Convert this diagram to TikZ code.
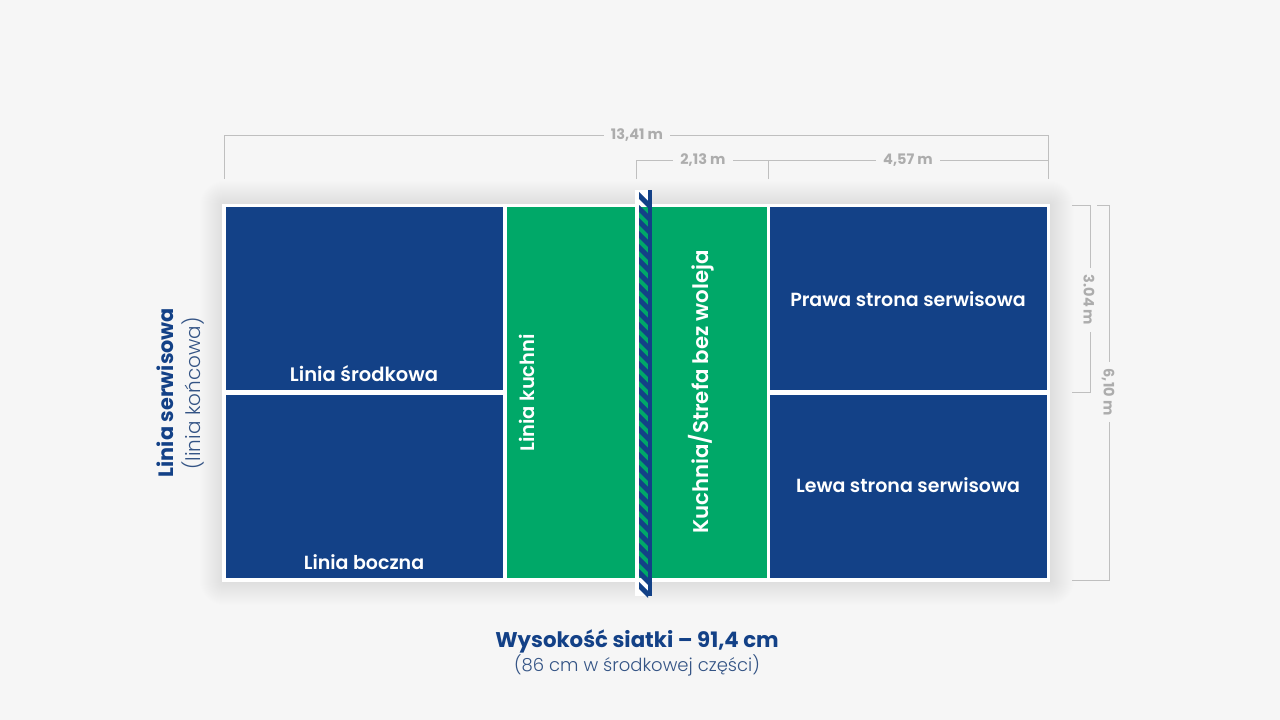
\documentclass[tikz,border=0pt]{standalone}
\usepackage{fontspec}
\setmainfont{Poppins}[UprightFont=* SemiBold,BoldFont=* Bold]
\newfontfamily\lightfont{Poppins Light}
\definecolor{MyBlue}{HTML}{134187}
\definecolor{MyGreen}{HTML}{00A868}
\definecolor{MyPaper}{HTML}{F6F6F6}
\colorlet{MyDim}{black!25}
\colorlet{MyDimText}{black!32}
\tikzset{
    cell/.style={fill=#1,draw=none,inner sep=0pt,anchor=north west},
    courttext/.style={white,font=\fontsize{#1}{20}\selectfont},
    courttext/.default=19,
    dimline/.style={draw=MyDim,line width=0.9pt},
    dimtext/.style={MyDimText,fill=MyPaper,inner xsep=7pt,inner ysep=1pt,font=\fontsize{14.5}{15}\selectfont\bfseries},
}
\begin{document}
\begin{tikzpicture}[x=1pt,y=-1pt]
                \fill[MyPaper] (0,0) rectangle (1280,720);
                \useasboundingbox (0,0) rectangle (1280,720);
                % soft shadow round the court
                \foreach \d in {1,2,...,24} {
                    \fill[black,opacity=0.005,rounded corners=\d] (224-\d,205-\d) rectangle (1050+\d,581+\d);
                }
                \fill[white] (222,204) rectangle (1050,582);
                % cells
                \node[cell=MyBlue,minimum width=277,minimum height=183] (srodkowa) at (226,207) {};
                \node[cell=MyBlue,minimum width=277,minimum height=183] (boczna) at (226,395) {};
                \node[cell=MyGreen,minimum width=128,minimum height=371] (kuchnia) at (507,207) {};
                \node[cell=MyGreen,minimum width=115,minimum height=371] (strefa) at (652,207) {};
                \node[cell=MyBlue,minimum width=277,minimum height=183] (prawa) at (770,207) {};
                \node[cell=MyBlue,minimum width=277,minimum height=183] (lewa) at (770,395) {};

                % net
                \fill[white] (635,190) rectangle (648,596);
                \fill[MyGreen] (639,207) rectangle (648,578);
                \foreach \y in {192,205,...,582} {
                    \fill[MyBlue] (639,\y) -- (648,\y+9) -- (648,\y+16) -- (639,\y+7) -- cycle;
                }
                \fill[MyBlue] (648,190) rectangle (652,596);

                % texts on the court
                \node[courttext=19.5] (t1) at (364,374) {Linia środkowa};
                \node[courttext] (t2) at (364,562.5) {Linia boczna};
                \node[courttext=19.5,rotate=90] (t3) at (527,393) {Linia kuchni};
                \node[courttext=21.3,rotate=90] (t4) at (701,392) {Kuchnia/Strefa bez woleja};
                \node[courttext] (t5) at (908,299) {Prawa strona serwisowa};
                \node[courttext] (t6) at (908,485) {Lewa strona serwisowa};

                % dimensions
                \coordinate (a1) at (224,179);
                \coordinate (a2) at (1048,179);
                \coordinate (b1) at (636,179);
                \coordinate (b2) at (768,179);
                \coordinate (c1) at (1072,205);
                \coordinate (c2) at (1072,392);
                \coordinate (d1) at (1097,205);
                \coordinate (d2) at (1072,580);
                \draw[dimline] (a1) |- (1048,135) -- (a2);
                \draw[dimline] (b1) |- (1048,160) -- (a2);
                \draw[dimline] (b2) -- (768,160);
                \draw[dimline] (c1) -- (1090,205) -- (1090,392) -- (c2);
                \draw[dimline] (d1) -- (1109,205) -- (1109,580) -- (d2);
                \node[dimtext] (l1) at (637,135) {13,41 m};
                \node[dimtext] (l2) at (703,160) {2,13 m};
                \node[dimtext] (l3) at (908,160) {4,57 m};
                \node[dimtext,rotate=-90] (l4) at (1089,300) {3.04 m};
                \node[dimtext,rotate=-90] (l5) at (1108,392) {6,10 m};

                % outer texts
                \node[MyBlue,rotate=90,font=\fontsize{20.8}{22}\selectfont\bfseries] (side) at (165.5,392.5) {Linia serwisowa};
                \node[MyBlue!70!gray,rotate=90,font=\fontsize{20}{22}\lightfont] (sidesub) at (193,393.5) {(linia końcowa)};
                \node[MyBlue,font=\fontsize{21.3}{23}\selectfont\bfseries] (net) at (637,641.5) {Wysokość siatki – 91,4 cm};
                \node[MyBlue!70!gray,font=\fontsize{18}{20}\lightfont] (netsub) at (637,665.5) {(86 cm w środkowej części)};
            \end{tikzpicture}
\end{document}
